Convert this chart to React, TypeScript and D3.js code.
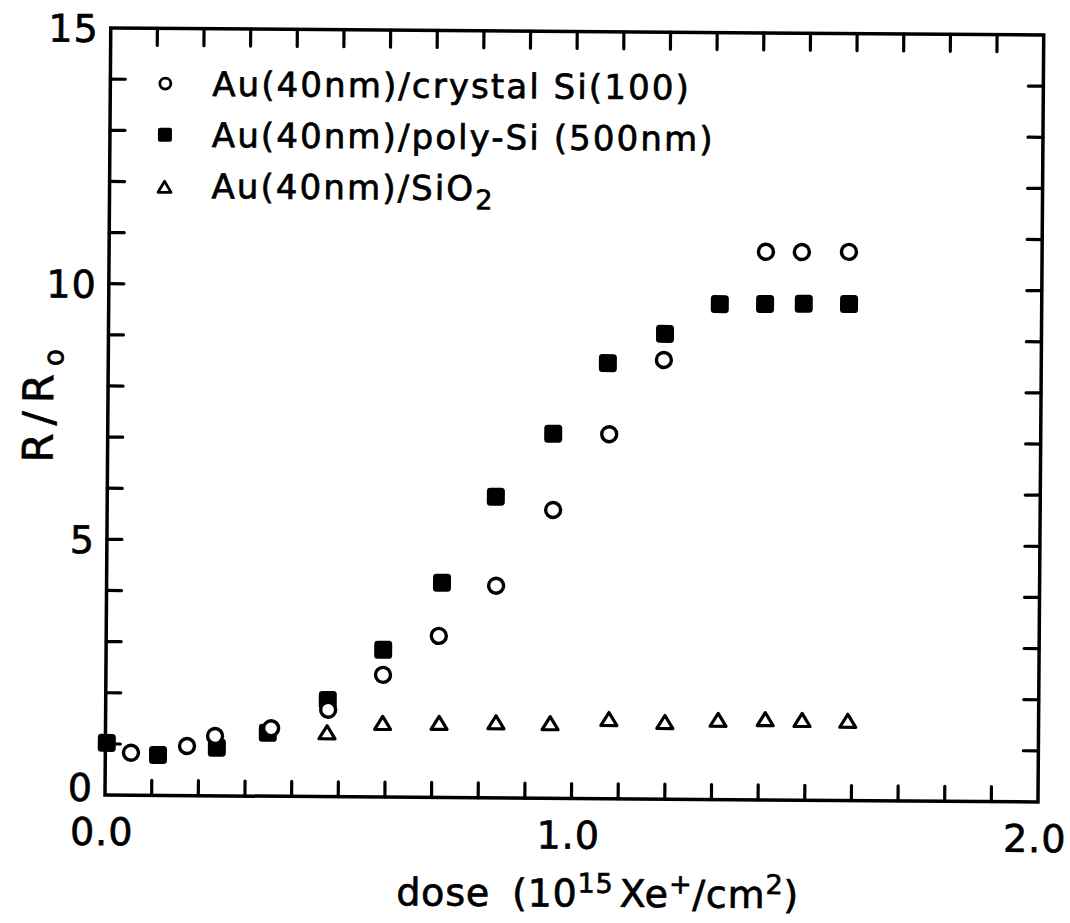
import React from "react";
import * as d3 from "d3";

// ---- data ----
const doseCrystal = [0.055, 0.175, 0.235, 0.355, 0.477, 0.594, 0.713, 0.835, 0.956, 1.075, 1.191, 1.408, 1.485, 1.586];
const ratioCrystal = [0.83, 0.97, 1.17, 1.33, 1.7, 2.39, 3.16, 4.15, 5.64, 7.13, 8.59, 10.72, 10.72, 10.73];
const dosePoly = [0.003, 0.113, 0.239, 0.348, 0.476, 0.594, 0.719, 0.833, 0.955, 1.071, 1.193, 1.31, 1.407, 1.49, 1.587];
const ratioPoly = [1.02, 0.79, 0.94, 1.24, 1.89, 2.88, 4.2, 5.89, 7.13, 8.52, 9.1, 9.69, 9.7, 9.71, 9.71];
const doseSiO2 = [0.475, 0.594, 0.715, 0.837, 0.953, 1.079, 1.199, 1.313, 1.414, 1.493, 1.591];
const ratioSiO2 = [1.26, 1.45, 1.46, 1.48, 1.47, 1.56, 1.51, 1.56, 1.58, 1.57, 1.56];

const xTickValues = d3.range(0, 20.5, 1).map((d) => d / 10);
const yTickValues = d3.range(0, 16, 1);
const xTickLabels = [
  { v: 0, t: "0.0" },
  { v: 1, t: "1.0" },
  { v: 2, t: "2.0" },
];
const yTickLabels = [
  { v: 0, t: "0" },
  { v: 5, t: "5" },
  { v: 10, t: "10" },
  { v: 15, t: "15" },
];
const legendLabels = ["Au(40nm)/crystal Si(100)", "Au(40nm)/poly-Si (500nm)", "Au(40nm)/SiO"];

const FONT = "'DejaVu Sans', sans-serif";

export default function App() {
  const x0 = 105,
    x1 = 1038,
    y0 = 795,
    y1 = 28;
  const x = d3.scaleLinear().domain([0, 2]).range([x0, x1]);
  const y = d3.scaleLinear().domain([0, 15]).range([y0, y1]);
  const TL = 15;
  const sw = 3.5;
  const textStroke = { stroke: "#000", strokeWidth: 0.7 };

  const tri = (cx: number, cy: number, w: number, h: number) =>
    `M${cx},${cy - h / 2} L${cx + w / 2},${cy + h / 2} L${cx - w / 2},${cy + h / 2} Z`;

  const poly = dosePoly.map((d, i) => ({ d, r: ratioPoly[i] }));
  const crys = doseCrystal.map((d, i) => ({ d, r: ratioCrystal[i] }));
  const sio2 = doseSiO2.map((d, i) => ({ d, r: ratioSiO2[i] }));

  return (
    <svg
      width={1070}
      height={923}
      style={{ position: "absolute", left: 0, top: 0, display: "block", background: "#fff" }}
      fontFamily={FONT}
    >
      <rect x={0} y={0} width={1070} height={923} fill="#fff" />
      <g transform={`rotate(0.43, ${x0}, ${y0})`}>
        {/* frame */}
        <rect x={x0} y={y1} width={x1 - x0} height={y0 - y1} fill="none" stroke="#000" strokeWidth={sw} />
        {/* x ticks bottom & top */}
        {xTickValues
          .filter((v) => v > 0 && v < 2)
          .map((v, i) => (
            <g key={"xt" + i} stroke="#000" strokeWidth={3.2} strokeLinecap="round">
              <line x1={x(v)} x2={x(v)} y1={y0} y2={y0 - TL} />
              <line x1={x(v)} x2={x(v)} y1={y1} y2={y1 + TL + 2} />
            </g>
          ))}
        {/* y ticks left & right */}
        {yTickValues
          .filter((v) => v > 0 && v < 15)
          .map((v, i) => (
            <g key={"yt" + i} stroke="#000" strokeWidth={3.2} strokeLinecap="round">
              <line x1={x0} x2={x0 + TL} y1={y(v)} y2={y(v)} />
              <line x1={x1} x2={x1 - TL} y1={y(v)} y2={y(v)} />
            </g>
          ))}
        {/* tick labels */}
        {yTickLabels.map((l, i) => (
          <text
            key={"yl" + i}
            x={x0 - 12}
            y={y(l.v) + (l.v === 0 ? 6 : 14)}
            fontSize={38}
            textAnchor="end"
            letterSpacing={1}
            {...textStroke}
          >
            {l.t}
          </text>
        ))}
        {xTickLabels.map((l, i) => (
          <text
            key={"xl" + i}
            x={x(l.v) - 3}
            y={y0 + 50}
            fontSize={38}
            textAnchor="middle"
            letterSpacing={1}
            {...textStroke}
          >
            {l.t}
          </text>
        ))}
        {/* axis titles */}
        <text x={397} y={y0 + 108} fontSize={38} letterSpacing={0.8} {...textStroke}>
          <tspan>dose</tspan>
          <tspan dx={22}>(10</tspan>
          <tspan dy={-14} fontSize={27}>15</tspan>
          <tspan dy={14} dx={6}>Xe</tspan>
          <tspan dy={-14} fontSize={27}>+</tspan>
          <tspan dy={14}>/cm</tspan>
          <tspan dy={-14} fontSize={27}>2</tspan>
          <tspan dy={14}>)</tspan>
        </text>
        <text transform={`translate(50, 463) rotate(-90)`} fontSize={42} letterSpacing={8} {...textStroke}>
          <tspan>R/R</tspan>
          <tspan dy={10} fontSize={28}>o</tspan>
        </text>
        {/* legend */}
        {legendLabels.map((t, i) => (
          <text key={"lg" + i} x={207} y={y(14 - i) + 16} fontSize={34} letterSpacing={2.1} {...textStroke}>
            {t}
            {i === 2 ? (
              <tspan dy={9} fontSize={27}>
                2
              </tspan>
            ) : null}
          </text>
        ))}
        <circle cx={160} cy={y(14) + 4} r={5.5} fill="#fff" stroke="#000" strokeWidth={2.8} />
        <rect x={153} y={y(13) - 3} width={14} height={14} rx={2} fill="#000" />
        <path d={tri(160, y(12) + 5, 13, 11)} fill="#fff" stroke="#000" strokeWidth={2.8} strokeLinejoin="round" />

        {/* data: squares first, then open markers on top */}
        {poly.map((p, i) => (
          <rect key={"sq" + i} x={x(p.d) - 9} y={y(p.r) - 9} width={18} height={18} rx={3.5} fill="#000" />
        ))}
        {sio2.map((p, i) => (
          <path
            key={"tr" + i}
            d={tri(x(p.d), y(p.r), 16, 13)}
            fill="#fff"
            stroke="#000"
            strokeWidth={3.2}
            strokeLinejoin="round"
          />
        ))}
        {crys.map((p, i) => (
          <circle key={"ci" + i} cx={x(p.d)} cy={y(p.r)} r={7.5} fill="#fff" stroke="#000" strokeWidth={3.4} />
        ))}
      </g>
    </svg>
  );
}
